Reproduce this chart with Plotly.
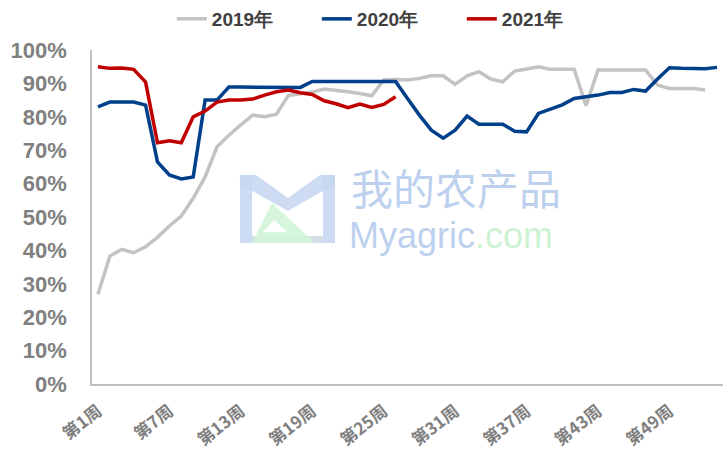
import plotly.graph_objects as go

weeks_2019 = list(range(1, 53))
weeks_2020 = list(range(1, 54))
weeks_2021 = list(range(1, 27))

v2019 = [26.9, 38.3, 40.3, 39.3, 41.1, 43.9, 47.3, 50.3, 55.6, 62.0,
         71.0, 74.5, 77.6, 80.5, 80.0, 80.8, 86.4, 86.8, 87.4, 88.3,
         88.0, 87.5, 87.0, 86.3, 91.0, 91.2, 91.0, 91.5, 92.3, 92.3,
         89.7, 92.3, 93.5, 91.3, 90.5, 93.7, 94.3, 95.0, 94.2, 94.2,
         94.2, 83.3, 94.0, 94.0, 94.0, 94.0, 94.0, 89.5, 88.5, 88.5,
         88.5, 88.0]
v2020 = [83.0, 84.4, 84.4, 84.4, 83.5, 66.5, 62.6, 61.4, 62.0, 85.0,
         85.0, 88.9, 88.9, 88.9, 88.9, 88.9, 88.9, 88.8, 90.6, 90.6,
         90.6, 90.6, 90.6, 90.6, 90.6, 90.6, 85.5, 80.5, 76.0, 73.6,
         76.0, 80.2, 77.8, 77.8, 77.8, 75.7, 75.5, 81.0, 82.2, 83.6,
         85.5, 86.0, 86.5, 87.3, 87.3, 88.2, 87.7, 91.3, 94.7, 94.5,
         94.5, 94.4, 94.8]
v2021 = [95.0, 94.5, 94.6, 94.2, 90.4, 72.2, 72.8, 72.2, 80.0, 81.7,
         84.4, 85.0, 85.0, 85.3, 86.5, 87.5, 88.0, 87.2, 86.7, 84.8,
         83.9, 82.7, 83.8, 82.8, 83.7, 86.0]

tick_weeks = [1, 7, 13, 19, 25, 31, 37, 43, 49]
tick_labels = ["第1周", "第7周", "第13周", "第19周", "第25周", "第31周", "第37周", "第43周", "第49周"]
y_ticks = [0, 10, 20, 30, 40, 50, 60, 70, 80, 90, 100]
y_labels = [f"{v}%" for v in y_ticks]

W, H = 725, 460
ML, MR, MT, MB = 92, 2, 50, 76
PW, PH = W - ML - MR, H - MT - MB


def px(x):
    return (x - ML) / PW


def py(y):
    return (H - MB - y) / PH


def path(points):
    return "M " + " L ".join(f"{px(a):.4f},{py(b):.4f}" for a, b in points) + " Z"


fig = go.Figure()

# watermark logo (decoration)
wm_blue = "rgba(196,214,240,0.85)"
wm_green = "rgba(210,245,215,0.9)"
wm_gray = "rgba(200,208,222,0.7)"


def wshape(pts, color):
    return dict(type="path", path=path(pts), xref="paper", yref="paper",
                fillcolor=color, line=dict(width=0), layer="below")


shapes = [
    wshape([(252, 236), (323, 236), (323, 243), (252, 243)], wm_gray),
    wshape([(240, 175), (252, 175), (252, 243), (240, 243)], wm_blue),
    wshape([(323, 175), (335, 175), (335, 243), (323, 243)], wm_blue),
    wshape([(240, 175), (256, 175), (288, 198), (320, 175), (335, 175),
            (335, 184), (288, 211), (240, 184)], wm_blue),
    wshape([(252, 243), (272, 203), (315, 243)], wm_green),
    wshape([(263, 232), (274, 220), (287, 232)], "white"),
]

fig.add_annotation(text="我的农产品", x=px(349), y=py(219), xref="paper", yref="paper",
                   xanchor="left", yanchor="bottom", showarrow=False,
                   font=dict(size=42, color="rgba(180,202,236,0.9)", family="Noto Sans CJK SC"))
fig.add_annotation(text="Myagric<span style='color:rgba(200,240,205,1)'>.com</span>",
                   x=px(347), y=py(213), xref="paper", yref="paper",
                   xanchor="left", yanchor="top", showarrow=False,
                   font=dict(size=36, color="rgba(180,202,236,0.9)", family="Liberation Sans"))

fig.add_trace(go.Scatter(x=weeks_2019, y=v2019, mode="lines", name="2019年",
                         line=dict(color="#C3C3C3", width=3.5)))
fig.add_trace(go.Scatter(x=weeks_2020, y=v2020, mode="lines", name="2020年",
                         line=dict(color="#003F8A", width=3.5)))
fig.add_trace(go.Scatter(x=weeks_2021, y=v2021, mode="lines", name="2021年",
                         line=dict(color="#C00000", width=3.5)))

fig.update_layout(
    width=W, height=H,
    margin=dict(l=ML, r=MR, t=MT, b=MB),
    plot_bgcolor="white", paper_bgcolor="white",
    shapes=shapes,
    showlegend=True,
    legend=dict(orientation="h", xref="container", yref="container",
                x=0.537, xanchor="center", y=1.0, yanchor="top",
                font=dict(size=19, color="#404040", family="Liberation Sans", weight="bold"),
                entrywidth=100, entrywidthmode="pixels", tracegroupgap=0),
    xaxis=dict(range=[0.5, 53.5], tickmode="array", tickvals=tick_weeks, ticktext=tick_labels,
               tickangle=-38, showgrid=False, zeroline=False, showline=True,
               linecolor="#BFBFBF", linewidth=1.5, ticks="", automargin=False,
               ticklabelstandoff=9,
               tickfont=dict(size=17, color="#7F7F7F", family="Noto Sans CJK SC", weight="bold")),
    yaxis=dict(range=[0, 100], tickmode="array", tickvals=y_ticks, ticktext=y_labels,
               showgrid=False, zeroline=False, showline=True, linecolor="#BFBFBF",
               linewidth=1.5, ticks="", automargin=False, ticklabelstandoff=19,
               tickfont=dict(size=22, color="#808080", family="Liberation Sans", weight="bold")),
)

fig.write_html("out.html", config={"displayModeBar": False},
               post_script="document.body.style.margin='0';")
